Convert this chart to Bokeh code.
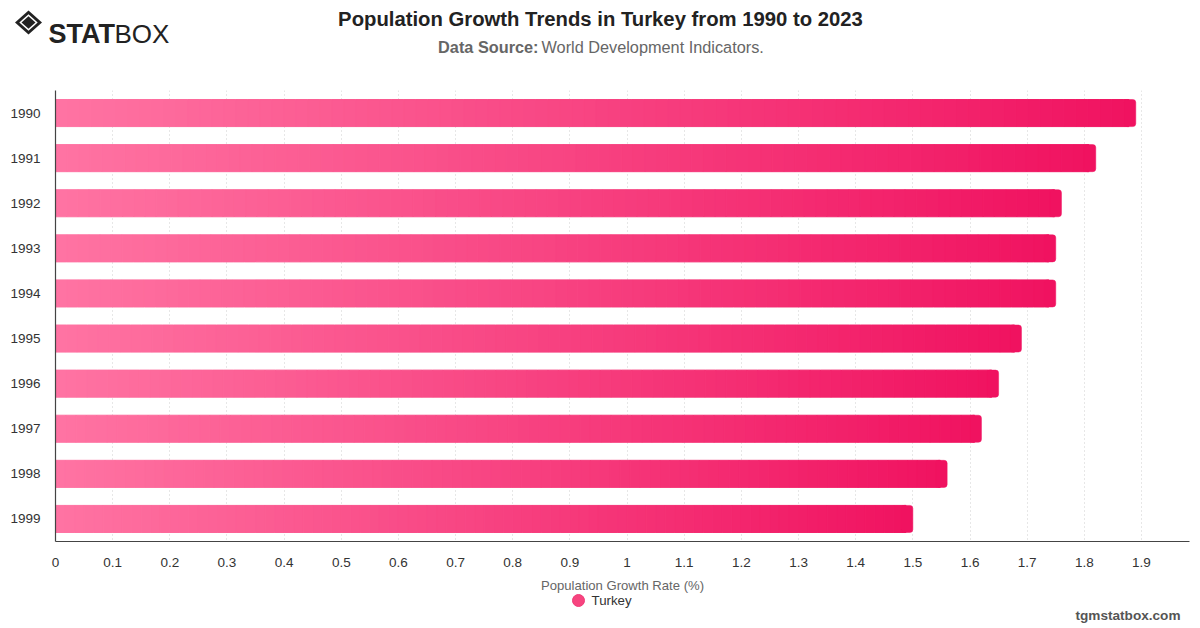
import numpy as np
from bokeh.plotting import figure
from bokeh.layouts import column
from bokeh.models import Range1d, FixedTicker
from bokeh.core.properties import value
from bokeh.embed import file_html
from bokeh.resources import INLINE

# Annual population growth, Turkey (%)
years = ["1990", "1991", "1992", "1993", "1994", "1995", "1996", "1997", "1998", "1999"]
growth = [1.89, 1.82, 1.76, 1.75, 1.75, 1.69, 1.65, 1.62, 1.56, 1.50]

x_ticks = [0.0, 0.1, 0.2, 0.3, 0.4, 0.5, 0.6, 0.7, 0.8, 0.9,
           1.0, 1.1, 1.2, 1.3, 1.4, 1.5, 1.6, 1.7, 1.8, 1.9]
x_tick_labels = ["0", "0.1", "0.2", "0.3", "0.4", "0.5", "0.6", "0.7", "0.8", "0.9",
                 "1", "1.1", "1.2", "1.3", "1.4", "1.5", "1.6", "1.7", "1.8", "1.9"]

series_name = "Turkey"
title_text = "Population Growth Trends in Turkey from 1990 to 2023"
x_title = "Population Growth Rate (%)"

W = 1200
HEAD_H = 90            # header strip: logo, title, source line
MAIN_H = 485           # chart with its axes
FOOT_H = 628 - HEAD_H - MAIN_H
FL, FR = 55, 1189      # chart frame, left/right in pixels
FRAME_H = 451
X_MAX = 1.984
N_CAT = len(years)

FONT = "Liberation Sans"


def blank(height):
    """A figure without axes whose frame is the whole canvas, in pixel units."""
    f = figure(width=W, height=height, output_backend="svg", toolbar_location=None,
               x_range=Range1d(0, W), y_range=Range1d(height, 0),
               x_axis_type=None, y_axis_type=None,
               min_border=0, min_border_left=0, min_border_right=0,
               min_border_top=0, min_border_bottom=0)
    f.frame_align = False
    f.outline_line_color = None
    f.grid.visible = False
    f.background_fill_color = "white"
    f.border_fill_color = "white"
    return f


# ---- header ----
head = blank(HEAD_H)
head.text(x=[600], y=[18], text=[title_text], text_align="center", text_baseline="middle",
          text_font=value(FONT), text_font_style="bold", text_font_size=value("20.3px"),
          text_color="#222222")
head.text(x=[538], y=[46], text=["Data Source:"], text_align="right", text_baseline="middle",
          text_font=value(FONT), text_font_style="bold", text_font_size=value("16.3px"),
          text_color="#666666")
head.text(x=[541], y=[46], text=["World Development Indicators."], text_align="left",
          text_baseline="middle", text_font=value(FONT), text_font_size=value("16.3px"),
          text_color="#666666")

# logo emblem: nested diamonds
cx, cy = 28, 22
for hw, hh, col in ((13.5, 12, "#222222"), (9.2, 8.2, "white"), (7, 6.2, "#222222")):
    head.patch(x=[cx - hw, cx, cx + hw, cx], y=[cy, cy - hh, cy, cy + hh],
               fill_color=col, line_color=None)
head.text(x=[48], y=[33], text=["STAT"], text_align="left", text_baseline="alphabetic",
          text_font=value(FONT), text_font_style="bold", text_font_size=value("27px"),
          text_color="#222222")
head.text(x=[114], y=[33], text=["BOX"], text_align="left", text_baseline="alphabetic",
          text_font=value(FONT), text_font_size=value("26px"), text_color="#222222")

# ---- chart ----
p = figure(width=W, height=MAIN_H, output_backend="svg", toolbar_location=None,
           x_range=Range1d(0, X_MAX), y_range=Range1d(N_CAT - 0.5, -0.5),
           min_border_left=FL, min_border_right=W - FR,
           min_border_top=0, min_border_bottom=MAIN_H - FRAME_H)
p.frame_align = False
p.outline_line_color = None
p.background_fill_color = "white"
p.border_fill_color = "white"

# bars with a left-to-right colour gradient, built from thin slices
c0 = np.array([255, 116, 163])
c1 = np.array([240, 18, 96])
N_SLICES = 90
BAR_H = 0.6
left, right, top, bottom, colors = [], [], [], [], []
cap_left, cap_right, cap_top, cap_bottom = [], [], [], []
for i, v in enumerate(growth):
    edges = np.linspace(0, v, N_SLICES + 1)
    for k in range(N_SLICES):
        t = (k + 0.5) / N_SLICES
        r, g, b = (c0 + (c1 - c0) * t).round().astype(int)
        left.append(edges[k])
        right.append(edges[k + 1] if k < N_SLICES - 1 else v - 0.012)
        top.append(i - BAR_H / 2)
        bottom.append(i + BAR_H / 2)
        colors.append(f"#{r:02x}{g:02x}{b:02x}")
    cap_left.append(v - 0.02)
    cap_right.append(v)
    cap_top.append(i - BAR_H / 2)
    cap_bottom.append(i + BAR_H / 2)

p.quad(left=left, right=right, top=top, bottom=bottom,
       fill_color=colors, line_color=colors, line_width=1)
end_color = "#%02x%02x%02x" % tuple(c1)
p.quad(left=cap_left, right=cap_right, top=cap_top, bottom=cap_bottom,
       fill_color=end_color, line_color=end_color, line_width=0.5,
       border_radius=3)

p.xgrid.ticker = FixedTicker(ticks=x_ticks)
p.xgrid.grid_line_color = "#cfcfcf"
p.xgrid.grid_line_dash = "1 3"
p.ygrid.grid_line_color = None

p.xaxis.ticker = FixedTicker(ticks=x_ticks)
p.xaxis.major_label_overrides = dict(zip(x_ticks, x_tick_labels))
p.yaxis.ticker = FixedTicker(ticks=list(range(N_CAT)))
p.yaxis.major_label_overrides = dict(zip(range(N_CAT), years))

for ax in (p.xaxis[0], p.yaxis[0]):
    ax.axis_line_color = "#444444"
    ax.axis_line_width = 1.2
    ax.major_tick_line_color = None
    ax.minor_tick_line_color = None
    ax.major_tick_out = 0
    ax.major_tick_in = 0
    ax.major_label_text_font = FONT
    ax.major_label_text_font_size = "13.5px"
    ax.major_label_text_color = "#333333"
p.xaxis.major_label_standoff = 16
p.yaxis.major_label_standoff = 15

# ---- footer: axis title, legend, site mark ----
foot = blank(FOOT_H)
FY0 = HEAD_H + MAIN_H
foot.text(x=[(FL + FR) / 2], y=[585 - FY0], text=[x_title], text_align="center",
          text_baseline="middle", text_font=value(FONT), text_font_size=value("13.1px"),
          text_color="#666666")
foot.scatter(x=[578], y=[600 - FY0], size=12, marker="circle",
             fill_color="#f7447f", line_color="#f03a78")
foot.text(x=[591], y=[600 - FY0], text=[series_name], text_align="left",
          text_baseline="middle", text_font=value(FONT), text_font_size=value("13.3px"),
          text_color="#333333")
foot.text(x=[1180], y=[615 - FY0], text=["tgmstatbox.com"], text_align="right",
          text_baseline="middle", text_font=value(FONT), text_font_style="bold",
          text_font_size=value("13.6px"), text_color="#555555")

layout = column(head, p, foot, spacing=0)
open("out.html", "w").write(file_html(layout, INLINE))
